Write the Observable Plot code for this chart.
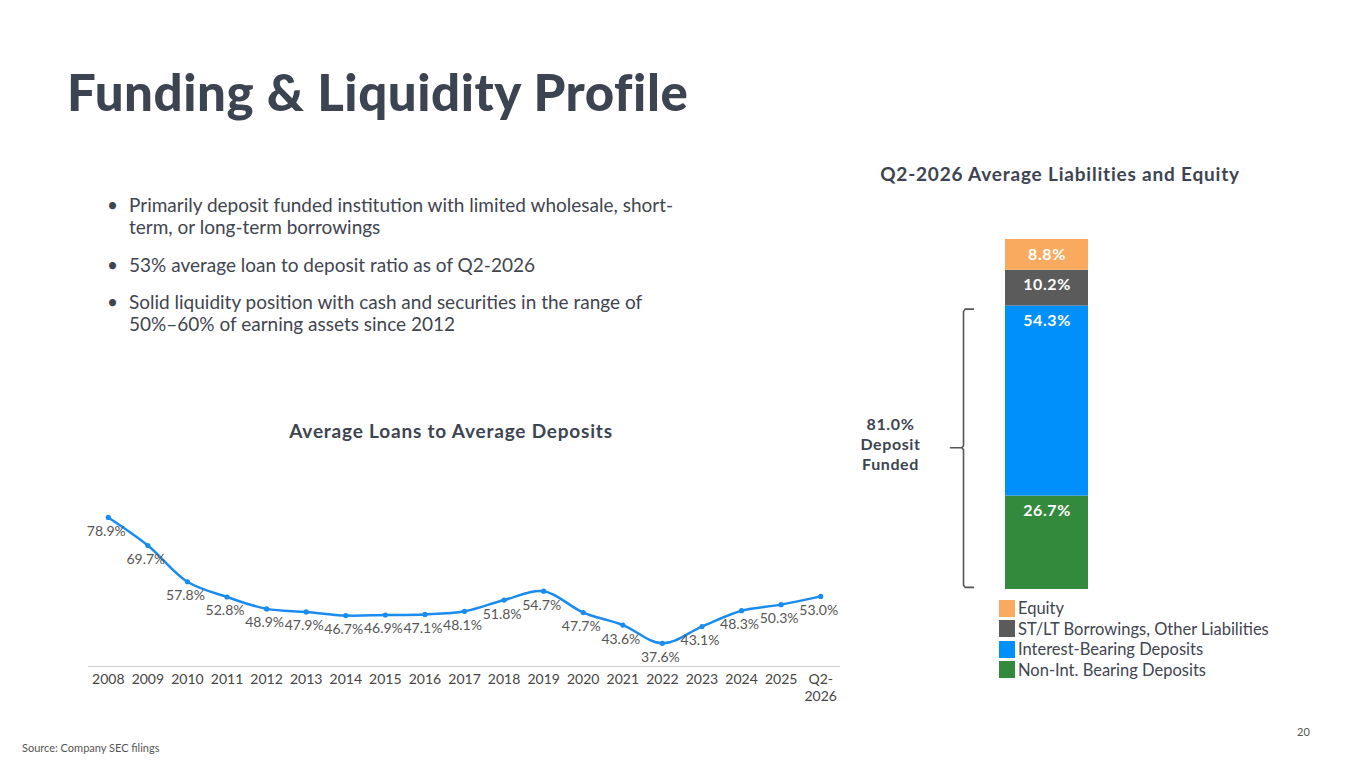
<!DOCTYPE html>
<html><head><meta charset="utf-8">
<script src="https://cdn.jsdelivr.net/npm/d3@7"></script>
<script src="https://cdn.jsdelivr.net/npm/@observablehq/plot@0.6"></script>
<style>
body{margin:0;width:1365px;height:768px;position:relative;background:#fff;font-family:Lato,"Open Sans",sans-serif;color:#3d4451;overflow:hidden}
.abs{position:absolute}
h1{position:absolute;left:67px;top:61px;margin:0;font-size:51px;font-weight:900;color:#3d4451;letter-spacing:0.55px;white-space:nowrap}
.bul{position:absolute;left:107px;font-size:19px;line-height:22px;color:#3f4550}
.bul span.d{position:absolute;left:0;top:0}
.bul div.t{margin-left:22px;white-space:nowrap}
.ctitle{position:absolute;font-size:19px;font-weight:700;color:#3d4451;white-space:nowrap;transform:translateX(-50%);letter-spacing:0.8px}
.leg{position:absolute;left:999px;top:598px;font-size:16.5px;color:#3f4550}
.leg .r{display:flex;align-items:center;height:20.5px;white-space:nowrap}
.leg .s{width:16px;height:17px;margin-right:3px}
.foot{position:absolute;font-size:11px;color:#555}
</style></head>
<body>
<h1>Funding &amp; Liquidity Profile</h1>
<div class="bul" style="top:194px"><span class="d">•</span><div class="t">Primarily deposit funded institution with limited wholesale, short-<br>term, or long-term borrowings</div></div>
<div class="bul" style="top:254px"><span class="d">•</span><div class="t">53% average loan to deposit ratio as of Q2-2026</div></div>
<div class="bul" style="top:291px"><span class="d">•</span><div class="t">Solid liquidity position with cash and securities in the range of<br>50%–60% of earning assets since 2012</div></div>
<div class="ctitle" style="left:1060px;top:162px">Q2-2026 Average Liabilities and Equity</div>
<div class="ctitle" style="left:451px;top:419px">Average Loans to Average Deposits</div>
<div id="line" class="abs" style="left:60px;top:490px"></div>
<div id="bar" class="abs" style="left:850px;top:220px"></div>
<div class="leg" id="leg"></div>
<div class="foot" style="left:22px;top:741px">Source: Company SEC filings</div>
<div class="foot" style="left:1297px;top:725px">20</div>
<script>
const years = ["2008","2009","2010","2011","2012","2013","2014","2015","2016","2017","2018","2019","2020","2021","2022","2023","2024","2025","Q2-2026"];
const ratios = [78.9,69.7,57.8,52.8,48.9,47.9,46.7,46.9,47.1,48.1,51.8,54.7,47.7,43.6,37.6,43.1,48.3,50.3,53.0];

const categories = ["Non-Int. Bearing Deposits","Interest-Bearing Deposits","ST/LT Borrowings, Other Liabilities","Equity"];
const shares = [26.7,54.3,10.2,8.8];
const colors = ["#338a3c","#0090fb","#5b5b5b","#f9aa5e"];
const depositCats = ["Non-Int. Bearing Deposits","Interest-Bearing Deposits"];

const lineData = years.map((y,i)=>({year:y, value:ratios[i]}));
const lineChart = Plot.plot({
  width:800, height:230,
  marginLeft:28, marginRight:20, marginTop:23.6, marginBottom:54,
  style:{fontFamily:"Lato, sans-serif", fontSize:"14px", color:"#444", background:"transparent"},
  x:{type:"point", domain:years, padding:0.5, round:false, label:null},
  y:{domain:[30,80], axis:null},
  marks:[
    Plot.axisX({tickSize:0, tickPadding:6, lineHeight:1.2, label:null,
      tickFormat:d => d === "Q2-2026" ? "Q2-\n2026" : d}),
    Plot.ruleY([30],{stroke:"#cfcfcf", strokeWidth:1}),
    Plot.line(lineData,{x:"year", y:"value", curve:"catmull-rom", stroke:"#1a8cf0", strokeWidth:2.5}),
    Plot.dot(lineData,{x:"year", y:"value", r:2.6, fill:"#1a8cf0"}),
    Plot.text(lineData,{x:"year", y:"value", text:d=>d.value.toFixed(1)+"%", dy:14, dx:-2, fill:"#555", fontSize:14})
  ]
});
document.getElementById("line").appendChild(lineChart);

const barData = categories.map((c,i)=>({cat:c, value:shares[i]}));
const depositTotal = d3.sum(barData.filter(d=>depositCats.includes(d.cat)), d=>d.value);
const bx = {arm:-0.386, spine:-0.506, nub:-0.663, label:-1.386};
const brace = [
  {x:bx.arm, y:depositTotal-0.9},{x:bx.spine+0.02, y:depositTotal-0.9},{x:bx.spine, y:depositTotal-1.6},
  {x:bx.spine, y:depositTotal/2+0.6},{x:bx.spine-0.02, y:depositTotal/2},{x:bx.nub, y:depositTotal/2},
  {x:bx.spine-0.02, y:depositTotal/2},{x:bx.spine, y:depositTotal/2-0.6},
  {x:bx.spine, y:1.3},{x:bx.spine+0.02, y:0.6},{x:bx.arm, y:0.6}
];
const barChart = Plot.plot({
  width:255, height:390,
  marginLeft:155, marginRight:17, marginTop:19, marginBottom:21,
  style:{fontFamily:"Lato, sans-serif", background:"transparent", letterSpacing:"0.6px"},
  x:{domain:[0,1], axis:null},
  y:{domain:[0,100], axis:null},
  marks:[
    Plot.rectY(barData, Plot.stackY({x1:0, x2:1, y:"value", fill:d=>colors[categories.indexOf(d.cat)]})),
    Plot.text(barData, Plot.stackY2({x:()=>0.5, y:"value", text:d=>d.value.toFixed(1)+"%", dy:15, fill:"#fff", fontWeight:"bold", fontSize:16})),
    Plot.line(brace,{x:"x", y:"y", stroke:"#555", strokeWidth:1.6}),
    Plot.text([depositTotal],{x:()=>bx.label, y:d=>d/2, text:d=>d.toFixed(1)+"%\nDeposit\nFunded", dy:-4, lineHeight:1.25, fontWeight:"bold", fontSize:16, fill:"#3d4451"})
  ]
});
document.getElementById("bar").appendChild(barChart);

const leg = document.getElementById("leg");
[...categories].reverse().forEach(c=>{
  const r = document.createElement("div"); r.className="r";
  const s = document.createElement("div"); s.className="s"; s.style.background = colors[categories.indexOf(c)];
  const t = document.createElement("span"); t.textContent = c;
  r.appendChild(s); r.appendChild(t); leg.appendChild(r);
});
</script>
</body></html>
